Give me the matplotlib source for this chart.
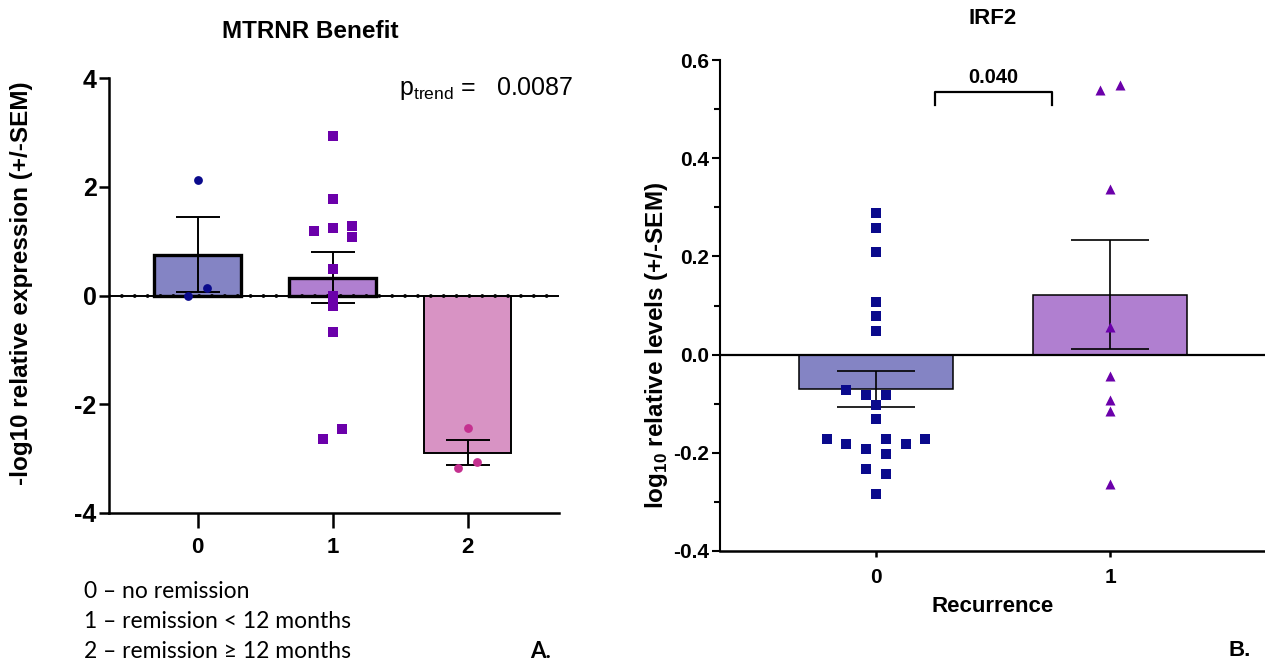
import matplotlib
matplotlib.use('Agg')
import matplotlib.pyplot as plt
import numpy as np

plt.rcParams['font.family'] = ['Liberation Sans', 'DejaVu Sans']
plt.rcParams['mathtext.fontset'] = 'custom'
plt.rcParams['mathtext.rm'] = 'Liberation Sans'
plt.rcParams['mathtext.bf'] = 'Liberation Sans:bold'
plt.rcParams['axes.unicode_minus'] = False

# ---- panel A: MTRNR Benefit ----
a_groups = ['0', '1', '2']
a_means = [0.75, 0.33, -2.89]
a_sem = [0.69, 0.47, 0.23]
a_pts0 = [2.13, 0.00, 0.13]
a_dx0 = [0.0, -0.07, 0.07]
a_pts1 = [2.94, 1.77, 1.18, 1.24, 1.27, 1.08, 0.48, 0.00, -0.20, -0.68, -2.63, -2.46]
a_dx1 = [0.0, 0.0, -0.14, 0.0, 0.14, 0.14, 0.0, 0.0, 0.0, 0.0, -0.07, 0.07]
a_pts2 = [-2.43, -3.07, -3.18]
a_dx2 = [0.0, 0.07, -0.07]
a_legend = ['0 \u2013 no remission', '1 \u2013 remission < 12 months',
            '2 \u2013 remission \u2265 12 months']

# ---- panel B: IRF2 ----
b_groups = ['0', '1']
b_means = [-0.070, 0.122]
b_sem = [0.036, 0.111]
b_pts0 = [0.288, 0.258, 0.208, 0.108, 0.078, 0.048,
          -0.072, -0.082, -0.082, -0.103, -0.132, -0.172, -0.183, -0.192,
          -0.172, -0.183, -0.172, -0.203, -0.233, -0.243, -0.283]
b_dx0 = [0, 0, 0, 0, 0, 0,
         -0.128, -0.043, 0.043, 0, 0, -0.21, -0.128, -0.043,
         0.043, 0.128, 0.21, 0.043, -0.043, 0.043, 0]
b_pts1 = [0.539, 0.549, 0.338, 0.057, -0.044, -0.093, -0.114, -0.264]
b_dx1 = [-0.044, 0.042, 0, 0, 0, 0, 0, 0]
b_pval = '0.040'

bar_cols = ['#8484C4', '#B07FD0', '#D893C4']
pt_cols = ['#0A0A8C', '#6B00AA', '#C4308F']

W, H = 1265, 662
fig = plt.figure(figsize=(W / 100, H / 100), dpi=100)


def px_axes(l, t, r, b):
    return fig.add_axes([l / W, 1 - b / H, (r - l) / W, (b - t) / H])


# ----------------- panel A -----------------
ax = px_axes(109, 78, 559, 513)
x = np.arange(len(a_groups))
edge_w = [2.4, 2.4, 1.4]
for i in range(len(x)):
    ax.bar(x[i], a_means[i], width=0.645, color=bar_cols[i],
           edgecolor='black', linewidth=edge_w[i], zorder=1)
ax.axhline(0, color='black', lw=1.4, zorder=2)
ax.axhline(0, color='black', lw=2.8, linestyle=(0, (0.01, 3.3)),
           dash_capstyle='round', zorder=2)
ax.errorbar(x, a_means, yerr=a_sem, fmt='none', ecolor='black',
            elinewidth=1.4, capsize=16, capthick=1.4, zorder=3)
ax.scatter(np.array(a_dx0) + 0, a_pts0, marker='o', s=40, color=pt_cols[0],
           linewidths=0, zorder=4)
ax.scatter(np.array(a_dx1) + 1, a_pts1, marker='s', s=46, color=pt_cols[1],
           linewidths=0, zorder=4)
ax.scatter(np.array(a_dx2) + 2, a_pts2, marker='o', s=40, color=pt_cols[2],
           linewidths=0, zorder=4)

ax.set_xlim(-0.657, 2.676)
ax.set_ylim(-4, 4)
ax.set_yticks([-4, -2, 0, 2, 4])
ax.set_xticks(x)
ax.set_xticklabels(a_groups)
for s in ['top', 'right']:
    ax.spines[s].set_visible(False)
for s in ['left', 'bottom']:
    ax.spines[s].set_linewidth(1.8)
ax.tick_params(axis='y', length=7, width=1.8, labelsize=18, pad=2)
ax.tick_params(axis='x', length=11, width=1.8, labelsize=16, pad=6)
for lab in ax.get_xticklabels() + ax.get_yticklabels():
    lab.set_fontweight('bold')

fig.text(310 / W, 1 - 31 / H, 'MTRNR Benefit', ha='center', va='center',
         fontsize=17.5, fontweight='bold')
fig.text(22 / W, 1 - 283 / H, '-log10 relative expression (+/-SEM)',
         rotation=90, ha='center', va='center', fontsize=17.5,
         fontweight='bold')
fig.text(573 / W, 1 - 88 / H, r'p$_{\mathrm{trend}}$ =   0.0087', ha='right',
         va='center', fontsize=18)

for k, line in enumerate(a_legend):
    fig.text(84 / W, 1 - (591 + 30 * k) / H, line, ha='left', va='center',
             fontsize=16.5, family=['Lato', 'DejaVu Sans'])
fig.text(530 / W, 1 - 651 / H, 'A.', ha='left', va='center', fontsize=16,
         fontweight='bold', family=['Lato', 'DejaVu Sans'])

# ----------------- panel B -----------------
bx = px_axes(720, 60, 1265, 551)
xb = np.arange(len(b_groups))
for i in range(len(xb)):
    bx.bar(xb[i], b_means[i], width=0.658, color=bar_cols[i],
           edgecolor='black', linewidth=1.1, zorder=1)
bx.axhline(0, color='black', lw=1.6, zorder=2)
bx.errorbar(xb, b_means, yerr=b_sem, fmt='none', ecolor='black',
            elinewidth=1.2, capsize=28, capthick=1.2, zorder=3)
bx.scatter(np.array(b_dx0) + 0, b_pts0, marker='s', s=46, color=pt_cols[0],
           linewidths=0, zorder=4)
bx.scatter(np.array(b_dx1) + 1, b_pts1, marker='^', s=52, color=pt_cols[1],
           linewidths=0, zorder=4)

# significance bracket
bx.plot([0.25, 0.25, 0.75, 0.75], [0.508, 0.535, 0.535, 0.508],
        color='black', lw=1.6, zorder=3)
bx.text(0.5, 0.546, b_pval, ha='center', va='bottom', fontsize=14.5,
        fontweight='bold')

bx.set_xlim(-0.667, 1.662)
bx.set_ylim(-0.4, 0.6)
bx.set_yticks([-0.4, -0.2, 0.0, 0.2, 0.4, 0.6])
bx.set_yticks(np.arange(-0.3, 0.6, 0.2), minor=True)
bx.set_yticklabels(['-0.4', '-0.2', '0.0', '0.2', '0.4', '0.6'])
bx.set_xticks(xb)
bx.set_xticklabels(b_groups)
for s in ['top', 'right']:
    bx.spines[s].set_visible(False)
bx.spines['left'].set_linewidth(1.5)
bx.spines['bottom'].set_linewidth(1.8)
bx.tick_params(axis='y', which='major', length=6, width=1.5, labelsize=15,
               pad=2)
bx.tick_params(axis='y', which='minor', length=4, width=1.5)
bx.tick_params(axis='x', length=4, width=1.8, labelsize=15, pad=8)
for lab in bx.get_xticklabels() + bx.get_yticklabels():
    lab.set_fontweight('bold')

fig.text(993 / W, 1 - 19 / H, 'IRF2', ha='center', va='center',
         fontsize=16, fontweight='bold')
fig.text(993 / W, 1 - 606 / H, 'Recurrence', ha='center', va='center',
         fontsize=16, fontweight='bold')
fig.text(657 / W, 1 - 345 / H, r'log$_{\mathbf{10}}$ relative levels (+/-SEM)',
         rotation=90, ha='center', va='center', fontsize=17.5,
         fontweight='bold')
fig.text(1229 / W, 1 - 651 / H, 'B.', ha='left', va='center', fontsize=16,
         fontweight='bold')

fig.savefig('out.png', dpi=100)
